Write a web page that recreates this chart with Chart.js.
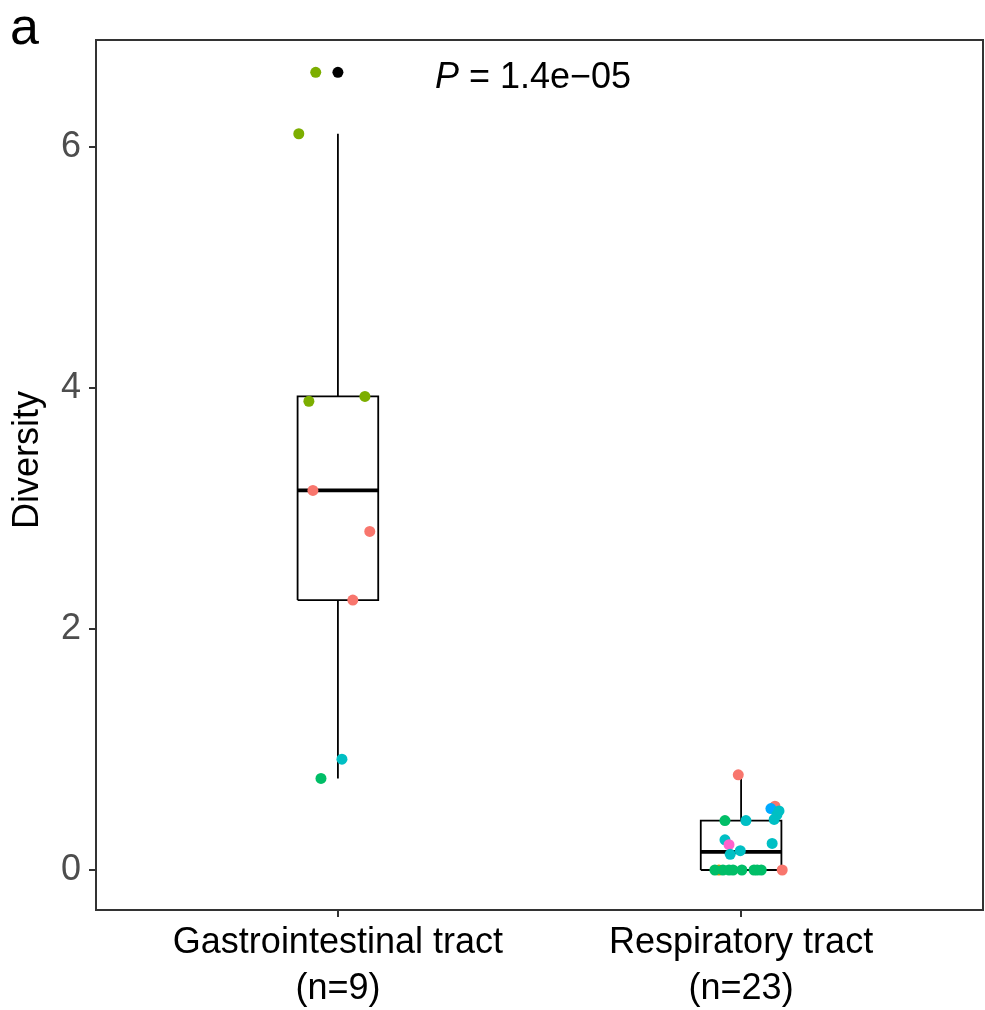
<!DOCTYPE html>
<html><head><meta charset="utf-8">
<script src="https://cdn.jsdelivr.net/npm/chart.js@4"></script>
<style>html,body{margin:0;padding:0;background:#fff;overflow:hidden}#wrap{width:985px;height:1010px;position:relative}</style>
</head><body><div id="wrap"><canvas id="c"></canvas></div>
<script>
// ---- data ----
const categories = ["Gastrointestinal tract", "Respiratory tract"];
const sampleSizes = ["(n=9)", "(n=23)"];
const categoryPos = [1, 2];
const yTicks = [0, 2, 4, 6];
const yTitle = "Diversity";
const whiskerLow = [0.76, 0];
const boxQ1 = [2.24, 0];
const boxMedian = [3.15, 0.15];
const boxQ3 = [3.93, 0.41];
const whiskerHigh = [6.11, 0.79];
const outlierValues = [6.62];
const outlierGroup = [0];
const pLabel = "1.4e\u221205";

const giValues = [6.62, 6.11, 3.89, 3.93, 3.15, 2.81, 2.24, 0.92, 0.76];
const giJitter = [-0.055, -0.097, -0.072, 0.067, -0.062, 0.079, 0.037, 0.010, -0.042];
const giColors = ["#7CAE00", "#7CAE00", "#7CAE00", "#7CAE00", "#F8766D", "#F8766D", "#F8766D", "#00BFC4", "#00BE67"];

const respValues = [0.79, 0.53, 0.51, 0.49, 0.46, 0.42, 0.41, 0.41, 0.25, 0.21, 0.22, 0.16, 0.13,
  0, 0, 0, 0, 0, 0, 0, 0, 0, 0];
const respJitter = [-0.007, 0.084, 0.074, 0.094, 0.089, 0.082, -0.040, 0.012, -0.040, -0.030, 0.077, -0.002, -0.027,
  -0.055, -0.065, -0.045, -0.030, -0.020, 0.002, 0.032, 0.040, 0.050, 0.102];
const respColors = ["#F8766D", "#F8766D", "#00A9FF", "#00BFC4", "#00BFC4", "#00BFC4", "#00BE67", "#00BFC4", "#00BFC4", "#FF61CC", "#00BFC4", "#00BFC4", "#00BFC4",
  "#CD9600", "#00BE67", "#00BE67", "#00BE67", "#00BE67", "#00BE67", "#00BE67", "#00BE67", "#00BE67", "#F8766D"];

// ---- build ----
const FONT = "'Liberation Sans', Arial, Helvetica, sans-serif";
const HALF = 0.1;
const datasets = [];
function lineDs(pts, w) {
  return { type: 'scatter', data: pts, showLine: true, borderColor: '#000', borderWidth: w,
    pointRadius: 0, pointHoverRadius: 0, fill: false, order: 2, tension: 0 };
}
categoryPos.forEach((p, i) => {
  datasets.push(lineDs([{x: p, y: boxQ3[i]}, {x: p, y: whiskerHigh[i]}], 1.8));
  datasets.push(lineDs([{x: p, y: boxQ1[i]}, {x: p, y: whiskerLow[i]}], 1.8));
  datasets.push(lineDs([{x: p - HALF, y: boxQ1[i]}, {x: p + HALF, y: boxQ1[i]}, {x: p + HALF, y: boxQ3[i]},
    {x: p - HALF, y: boxQ3[i]}, {x: p - HALF, y: boxQ1[i]}], 1.8));
  datasets.push(lineDs([{x: p - HALF, y: boxMedian[i]}, {x: p + HALF, y: boxMedian[i]}], 3.6));
});
datasets.push({ type: 'scatter', data: outlierValues.map((v, i) => ({x: categoryPos[outlierGroup[i]], y: v})),
  backgroundColor: '#000', borderWidth: 0, pointRadius: 5.5, order: 1 });
datasets.push({ type: 'scatter', data: giValues.map((v, i) => ({x: categoryPos[0] + giJitter[i], y: v})),
  backgroundColor: giColors, borderWidth: 0, pointRadius: 5.5, order: 0 });
datasets.push({ type: 'scatter', data: respValues.map((v, i) => ({x: categoryPos[1] + respJitter[i], y: v})),
  backgroundColor: respColors, borderWidth: 0, pointRadius: 5.5, order: 0 });

const decor = {
  id: 'decor',
  afterDraw(chart) {
    const {ctx, chartArea: a, scales} = chart;
    ctx.save();
    ctx.strokeStyle = '#333';
    ctx.lineWidth = 2;
    ctx.strokeRect(a.left, a.top, a.right - a.left, a.bottom - a.top);
    // panel tag
    ctx.fillStyle = '#000';
    ctx.font = `52px ${FONT}`;
    ctx.textBaseline = 'alphabetic';
    ctx.textAlign = 'left';
    ctx.fillText('a', 10, 44);
    // y axis title
    ctx.save();
    ctx.translate(28, (a.top + a.bottom) / 2 - 15);
    ctx.rotate(-Math.PI / 2);
    ctx.textAlign = 'center';
    ctx.textBaseline = 'middle';
    ctx.font = `36px ${FONT}`;
    ctx.fillText(yTitle, 0, 0);
    ctx.restore();
    // p-value
    ctx.font = `italic 36px ${FONT}`;
    const pw = ctx.measureText('P').width;
    ctx.font = `36px ${FONT}`;
    const rest = ' = ' + pLabel;
    const rw = ctx.measureText(rest).width;
    const cx = scales.x.getPixelForValue(1.484);
    const cy = scales.y.getPixelForValue(6.57);
    const x0 = cx - (pw + rw) / 2;
    ctx.textBaseline = 'middle';
    ctx.font = `italic 36px ${FONT}`;
    ctx.fillText('P', x0, cy);
    ctx.font = `36px ${FONT}`;
    ctx.fillText(rest, x0 + pw, cy);
    ctx.restore();
  }
};

new Chart(document.getElementById('c'), {
  type: 'scatter',
  data: { datasets },
  plugins: [decor],
  options: {
    responsive: true, maintainAspectRatio: false, animation: false,
    layout: { autoPadding: false, padding: { top: 40, right: 2, left: 0, bottom: 0 } },
    plugins: { legend: { display: false }, tooltip: { enabled: false } },
    events: [],
    scales: {
      x: {
        type: 'linear', min: 0.4, max: 2.6,
        afterBuildTicks: s => { s.ticks = categoryPos.map(v => ({ value: v })); },
        afterFit: s => { s.height = 100; s.paddingLeft = 0; s.paddingRight = 0; },
        ticks: {
          autoSkip: false, maxRotation: 0, color: '#000', padding: 3,
          font: { size: 36, family: FONT, lineHeight: 1.28 },
          callback: (v, i) => [categories[i], sampleSizes[i]]
        },
        grid: { drawOnChartArea: false, drawTicks: true, tickLength: 7, color: '#333', lineWidth: 2 },
        border: { color: '#333', width: 2 }
      },
      y: {
        type: 'linear', min: -0.332, max: 6.888,
        afterBuildTicks: s => { s.ticks = yTicks.map(v => ({ value: v })); },
        afterFit: s => { s.width = 96; s.paddingTop = 0; s.paddingBottom = 0; },
        ticks: { color: '#4D4D4D', padding: 8, font: { size: 36, family: FONT }, callback: v => String(v) },
        grid: { drawOnChartArea: false, drawTicks: true, tickLength: 7, color: '#333', lineWidth: 2 },
        border: { color: '#333', width: 2 }
      }
    }
  }
});
</script></body></html>
